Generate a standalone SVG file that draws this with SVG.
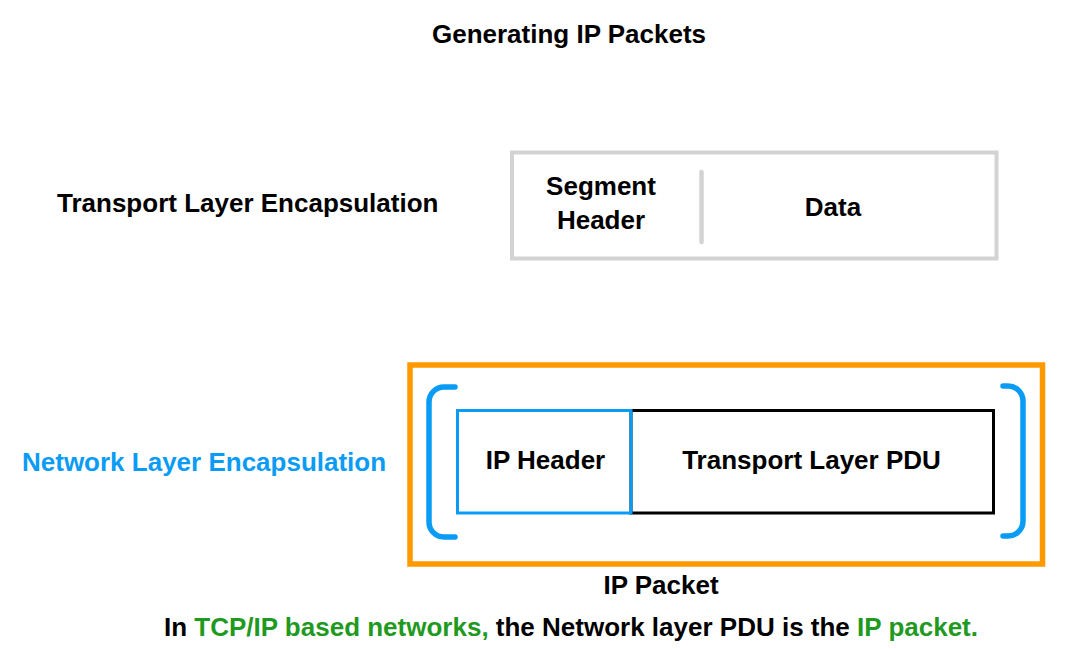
<svg xmlns="http://www.w3.org/2000/svg" width="1072" height="649" viewBox="0 0 1072 649">
<style>
text{font-family:"Liberation Sans",Arial,sans-serif;font-weight:bold;font-size:26px;fill:#000}
.c{text-anchor:middle}
.blue{fill:#0a9cf5}
.green{fill:#1f9a1f}
.gray{fill:#fff;stroke:#d3d3d3;stroke-width:4}
.br{fill:none;stroke:#0a9cf5;stroke-width:5.5;stroke-linecap:round}
</style>
<rect width="1072" height="649" fill="#fff"/>
<g id="title"><text class="c" x="569" y="43">Generating IP Packets</text></g>
<g id="transport-label"><text x="57" y="212">Transport Layer Encapsulation</text></g>
<g id="segment">
<rect class="gray" x="512" y="152.5" width="484.5" height="106"/>
<line x1="701.5" y1="172" x2="701.5" y2="242" stroke="#d3d3d3" stroke-width="4.5" stroke-linecap="round"/>
<text class="c" x="601" y="195">Segment</text>
<text class="c" x="601" y="229">Header</text>
<text class="c" x="833" y="216">Data</text>
</g>
<g id="network-label"><text class="blue" x="22" y="471">Network Layer Encapsulation</text></g>
<g id="ip-packet">
<rect x="410" y="365" width="632.5" height="199" fill="none" stroke="#ff9900" stroke-width="5.5"/>
<path class="br" d="M455,387 H444 A15,15 0 0 0 429,402 V522 A15,15 0 0 0 444,537 H455"/>
<path class="br" d="M1003,386 H1008 A15,15 0 0 1 1023,401 V521 A15,15 0 0 1 1008,536 H1003"/>
<rect x="631" y="410.5" width="362.5" height="102.5" fill="none" stroke="#000" stroke-width="3"/>
<rect x="457.5" y="410.5" width="173.5" height="102.5" fill="none" stroke="#0a9cf5" stroke-width="3"/>
<text class="c" x="545.5" y="469">IP Header</text>
<text class="c" x="811.5" y="469">Transport Layer PDU</text>
</g>
<g id="ip-packet-label"><text class="c" x="661" y="594">IP Packet</text></g>
<g id="caption"><text class="c" x="571" y="636">In <tspan class="green">TCP/IP based networks,</tspan> the Network layer PDU is the <tspan class="green">IP packet.</tspan></text></g>
<g id="connectors"></g>
</svg>
